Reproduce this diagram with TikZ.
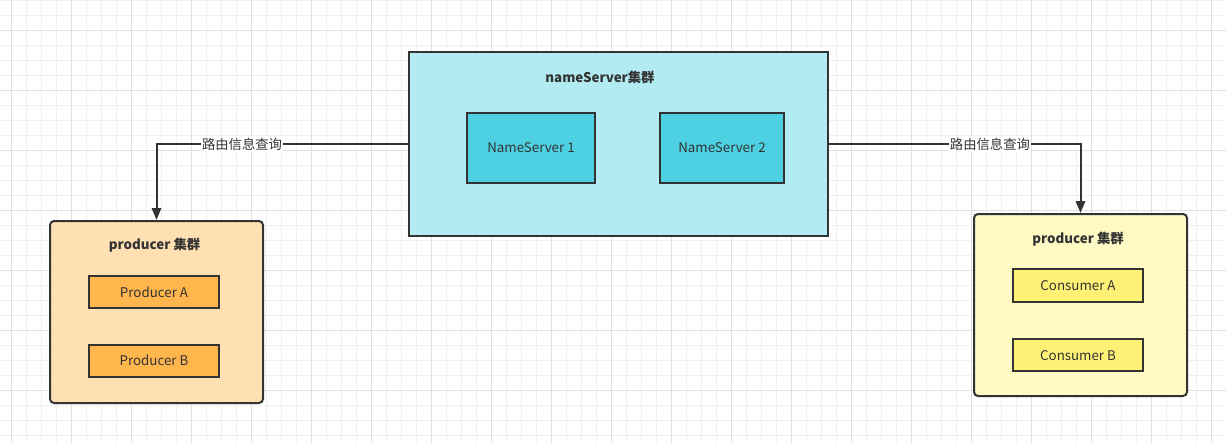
\documentclass[tikz,border=0pt]{standalone}
\usepackage{fontspec}
\setmainfont{Noto Sans CJK SC}
\usepackage{tikz}
\usetikzlibrary{arrows.meta,positioning}

\definecolor{inkgray}{HTML}{333333}
\definecolor{gridminor}{HTML}{F0F0F0}
\definecolor{gridmajor}{HTML}{E0E0E0}
\definecolor{nsouter}{HTML}{B2EBF2}
\definecolor{nsinner}{HTML}{4DD0E1}
\definecolor{prodouter}{HTML}{FFE0B2}
\definecolor{prodinner}{HTML}{FFB74D}
\definecolor{consouter}{HTML}{FFF9C4}
\definecolor{consinner}{HTML}{FFF176}

\begin{document}
\begin{tikzpicture}[
  x=0.75pt,y=-0.75pt,
  font=\fontsize{10pt}{12pt}\selectfont,text=inkgray,
  group/.style={draw=inkgray,line width=1.5pt,inner sep=0pt},
  item/.style={draw=inkgray,line width=1.5pt,align=center,inner sep=0pt},
  title/.style={font=\fontsize{10pt}{12pt}\selectfont\bfseries},
  flow/.style={-{Triangle[length=9pt,width=7pt]},line width=1.5pt,draw=inkgray},
  tag/.style={fill=white,inner sep=1pt}
]
\useasboundingbox (0,0) rectangle (1226,443);
% background grid
\foreach \x in {11.7,26.7,...,1226} \draw[gridminor,line width=0.75pt] (\x,0) -- (\x,443);
\foreach \y in {0,15,...,443} \draw[gridminor,line width=0.75pt] (0,\y) -- (1226,\y);
\foreach \x in {11.7,71.7,...,1226} \draw[gridmajor,line width=0.75pt] (\x,0) -- (\x,443);
\foreach \y in {30,90,...,443} \draw[gridmajor,line width=0.75pt] (0,\y) -- (1226,\y);

% nameServer cluster
\node[group,fill=nsouter,minimum width=314.25pt,minimum height=138pt] (nsgrp) at (618.5,144) {};
\node[title] (nstitle) at (600,77) {nameServer集群};
\node[item,fill=nsinner,minimum width=96pt,minimum height=52.5pt] (ns1) at (531,148) {NameServer 1};
\node[item,fill=nsinner,minimum width=93pt,minimum height=52.5pt] (ns2) at (722,148) {NameServer 2};

% producer cluster
\node[group,rounded corners=3pt,fill=prodouter,minimum width=159.75pt,minimum height=136.5pt] (prodgrp) at (156.5,312) {};
\node[title] (prodtitle) at (154.5,245) {producer 集群};
\node[item,fill=prodinner,minimum width=97.5pt,minimum height=24pt] (proda) at (154,292) {Producer A};
\node[item,fill=prodinner,minimum width=97.5pt,minimum height=24pt,below=26pt of proda] (prodb) {Producer B};

% consumer cluster
\node[group,rounded corners=3pt,fill=consouter,minimum width=159.75pt,minimum height=136.5pt] (consgrp) at (1080.5,305) {};
\node[title] (constitle) at (1078,239) {producer 集群};
\node[item,fill=consinner,minimum width=97.5pt,minimum height=24.75pt] (consa) at (1078,285.5) {Consumer A};
\node[item,fill=consinner,minimum width=97.5pt,minimum height=24pt,below=26.5pt of consa] (consb) {Consumer B};

% routing queries
\draw[flow] (nsgrp.west) -| node[tag,pos=0.33] (qleft) {路由信息查询} (prodgrp.north);
\draw[flow] (nsgrp.east) -| node[tag,pos=0.32] (qright) {路由信息查询} (consgrp.north);
\end{tikzpicture}
\end{document}
